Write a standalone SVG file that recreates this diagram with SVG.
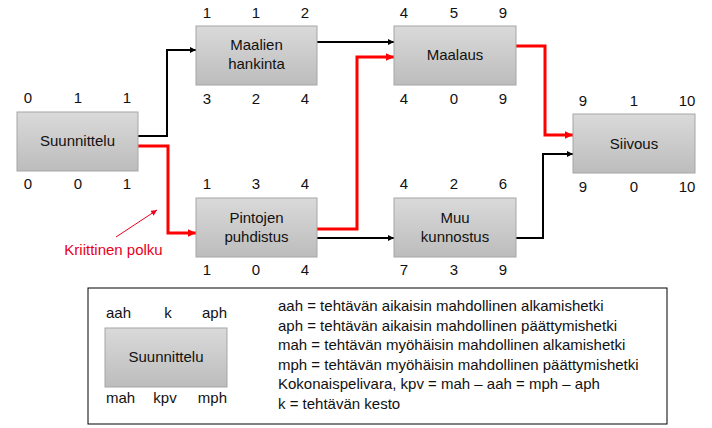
<svg xmlns="http://www.w3.org/2000/svg" width="712" height="428" viewBox="0 0 712 428">
<style>
text{font-family:"Liberation Sans",Arial,sans-serif;font-size:15px;fill:#111}
.c{text-anchor:middle}
.e{text-anchor:end}
.box{fill:url(#g);stroke:#a6a6a6;stroke-width:1}
.bk{fill:none;stroke:#000;stroke-width:2}
.rd{fill:none;stroke:#ff0000;stroke-width:3}
.red{fill:#e8001c}
</style>
<defs>
<linearGradient id="g" x1="0" y1="0" x2="0" y2="1">
<stop offset="0" stop-color="#dadada"/>
<stop offset="1" stop-color="#bcbcbc"/>
</linearGradient>
<marker id="ab" viewBox="0 0 10 10" refX="10" refY="5" markerWidth="3" markerHeight="3" orient="auto" markerUnits="strokeWidth"><path d="M0,0L10,5L0,10z" fill="#000"/></marker>
<marker id="ar" viewBox="0 0 10 10" refX="10" refY="5" markerWidth="2.7" markerHeight="2.5" orient="auto" markerUnits="strokeWidth" preserveAspectRatio="none"><path d="M0,0L10,5L0,10z" fill="#ff0000"/></marker>
<marker id="at" viewBox="0 0 10 10" refX="10" refY="5" markerWidth="6" markerHeight="6" orient="auto" markerUnits="strokeWidth"><path d="M0,0L10,5L0,10z" fill="#e8001c"/></marker>
</defs>
<rect width="712" height="428" fill="#fff"/>
<g id="connectors">
<polyline class="bk" points="138,136 167,136 167,50 196,50" marker-end="url(#ab)"/>
<polyline class="rd" points="138,146 168,146 168,233 196,233" marker-end="url(#ar)"/>
<polyline class="bk" points="317,42 394,42" marker-end="url(#ab)"/>
<polyline class="rd" points="317,229 357,229 357,57 394,57" marker-end="url(#ar)"/>
<polyline class="bk" points="317,238 394,238" marker-end="url(#ab)"/>
<polyline class="rd" points="516,46 545,46 545,135 573,135" marker-end="url(#ar)"/>
<polyline class="bk" points="516,238 543,238 543,154 573,154" marker-end="url(#ab)"/>
<line x1="116" y1="237" x2="157" y2="210" stroke="#e8001c" stroke-width="1" marker-end="url(#at)"/>
</g>
<g id="n-suunnittelu">
<rect class="box" x="17" y="112" width="121" height="59"/>
<text class="c" x="77.5" y="146">Suunnittelu</text>
<text class="c" x="28" y="103">0</text><text class="c" x="78" y="103">1</text><text class="c" x="127" y="103">1</text>
<text class="c" x="28" y="189">0</text><text class="c" x="78" y="189">0</text><text class="c" x="127" y="189">1</text>
</g>
<g id="n-maalien">
<rect class="box" x="196" y="26" width="121" height="59"/>
<text class="c" x="256.5" y="50">Maalien</text>
<text class="c" x="256.5" y="69">hankinta</text>
<text class="c" x="207" y="18">1</text><text class="c" x="256" y="18">1</text><text class="c" x="305" y="18">2</text>
<text class="c" x="207" y="104">3</text><text class="c" x="256" y="104">2</text><text class="c" x="305" y="104">4</text>
</g>
<g id="n-pintojen">
<rect class="box" x="196" y="198" width="121" height="59"/>
<text class="c" x="256.5" y="223">Pintojen</text>
<text class="c" x="256.5" y="242">puhdistus</text>
<text class="c" x="207" y="189">1</text><text class="c" x="256" y="189">3</text><text class="c" x="305" y="189">4</text>
<text class="c" x="207" y="275">1</text><text class="c" x="256" y="275">0</text><text class="c" x="305" y="275">4</text>
</g>
<g id="n-maalaus">
<rect class="box" x="394" y="26" width="122" height="59"/>
<text class="c" x="455" y="60">Maalaus</text>
<text class="c" x="404" y="18">4</text><text class="c" x="454" y="18">5</text><text class="c" x="503" y="18">9</text>
<text class="c" x="404" y="104">4</text><text class="c" x="454" y="104">0</text><text class="c" x="503" y="104">9</text>
</g>
<g id="n-muu">
<rect class="box" x="394" y="198" width="122" height="59"/>
<text class="c" x="455" y="223">Muu</text>
<text class="c" x="455" y="242">kunnostus</text>
<text class="c" x="404" y="189">4</text><text class="c" x="454" y="189">2</text><text class="c" x="503" y="189">6</text>
<text class="c" x="404" y="275">7</text><text class="c" x="454" y="275">3</text><text class="c" x="503" y="275">9</text>
</g>
<g id="n-siivous">
<rect class="box" x="573" y="114" width="122" height="59"/>
<text class="c" x="634" y="149">Siivous</text>
<text class="c" x="583" y="106">9</text><text class="c" x="634" y="106">1</text><text class="c" x="687" y="106">10</text>
<text class="c" x="583" y="192">9</text><text class="c" x="634" y="192">0</text><text class="c" x="687" y="192">10</text>
</g>
<g id="label-kriittinen">
<text class="c red" x="113.5" y="255">Kriittinen polku</text>
</g>
<g id="legend">
<rect x="88" y="288" width="579" height="136" fill="#fff" stroke="#000" stroke-width="1"/>
<rect class="box" x="105" y="328" width="122" height="59"/>
<text class="c" x="166" y="362">Suunnittelu</text>
<text x="106" y="318">aah</text><text class="c" x="168" y="318">k</text><text class="e" x="227" y="318">aph</text>
<text x="106" y="403">mah</text><text class="c" x="165" y="403">kpv</text><text class="e" x="227" y="403">mph</text>
<text x="278" y="311">aah = tehtävän aikaisin mahdollinen alkamishetki</text>
<text x="278" y="331">aph = tehtävän aikaisin mahdollinen päättymishetki</text>
<text x="278" y="350">mah = tehtävän myöhäisin mahdollinen alkamishetki</text>
<text x="278" y="370">mph = tehtävän myöhäisin mahdollinen päättymishetki</text>
<text x="278" y="389">Kokonaispelivara, kpv = mah – aah = mph – aph</text>
<text x="278" y="409">k = tehtävän kesto</text>
</g>
</svg>
